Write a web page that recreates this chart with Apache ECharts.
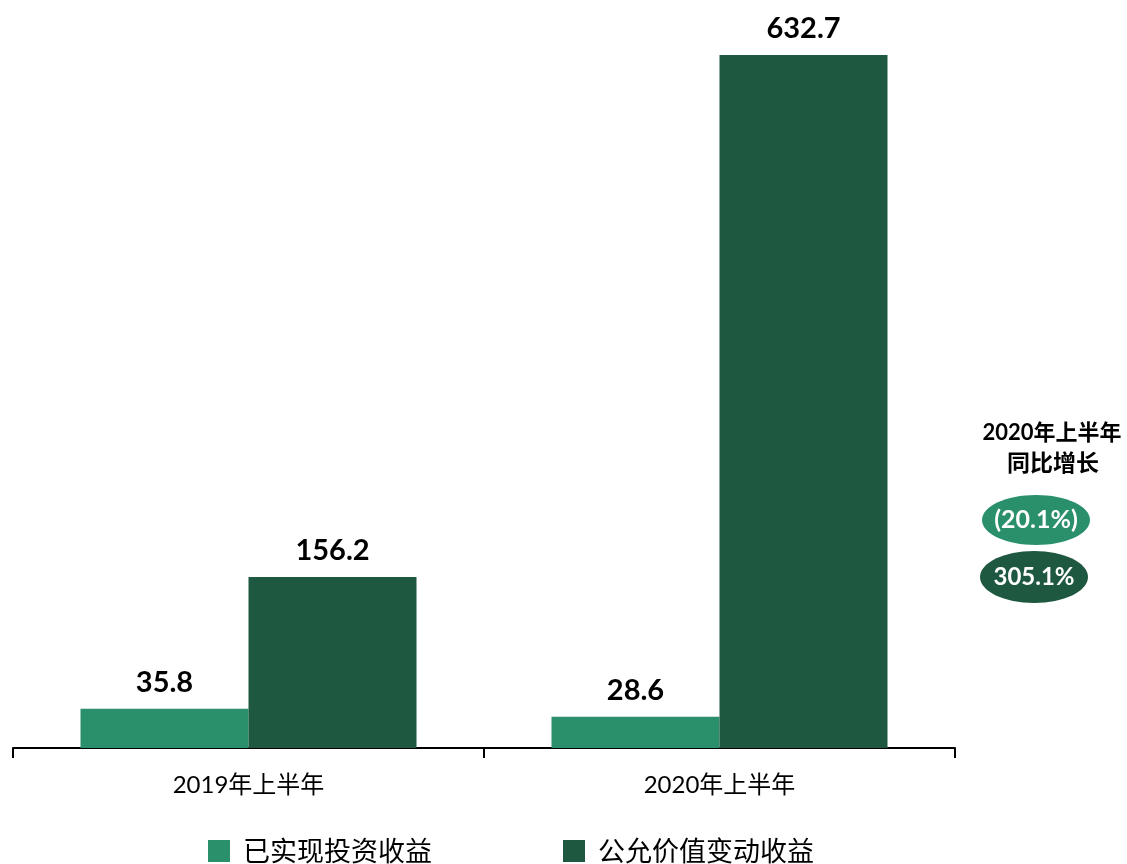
<!DOCTYPE html>
<html>
<head>
<meta charset="utf-8">
<script src="https://cdn.jsdelivr.net/npm/echarts@6/dist/echarts.min.js"></script>
<style>html,body{margin:0;padding:0;background:#fff;}#c{width:1127px;height:864px;}</style>
</head>
<body>
<div id="c"></div>
<script>
const categories = ['2019年上半年', '2020年上半年'];
const seriesNames = ['已实现投资收益', '公允价值变动收益'];
const realized = [35.8, 28.6];
const fairValue = [156.2, 632.7];
const growthTitle = ['2020年上半年', '同比增长'];
const growthLabels = ['(20.1%)', '305.1%'];

const colors = ['#2A8F6B', '#1F5841'];
const numFont = "Lato, 'Noto Sans CJK SC', sans-serif";
const cjkFont = "'Noto Sans CJK SC', sans-serif";

const chart = echarts.init(document.getElementById('c'));
const legendText = { fontSize: 27, color: '#000', fontFamily: cjkFont, padding: [0, 0, 0, 8], lineHeight: 30 };
chart.setOption({
  animation: false,
  backgroundColor: '#fff',
  grid: { left: 13, right: 172, top: 55, bottom: 116 },
  legend: [
    { data: [seriesNames[0]], left: 208, top: 836, padding: 0, itemWidth: 22, itemHeight: 22, icon: 'rect', textStyle: legendText },
    { data: [seriesNames[1]], left: 563, top: 836, padding: 0, itemWidth: 22, itemHeight: 22, icon: 'rect', textStyle: legendText }
  ],
  xAxis: {
    type: 'category',
    data: categories,
    axisLine: { lineStyle: { color: '#000', width: 2 } },
    axisTick: { show: true, length: 10, lineStyle: { color: '#000', width: 2 } },
    axisLabel: { fontSize: 24, color: '#000', margin: 25, fontFamily: numFont }
  },
  yAxis: {
    type: 'value', min: 0, max: 632.7,
    show: false, splitLine: { show: false }
  },
  series: [
    { name: seriesNames[0], type: 'bar', data: realized, barWidth: 168, barGap: '0%',
      itemStyle: { color: colors[0] },
      label: { show: true, position: 'top', distance: 12, fontSize: 29, fontWeight: 'bold', color: '#000', fontFamily: numFont,
               formatter: p => p.value.toFixed(1) } },
    { name: seriesNames[1], type: 'bar', data: fairValue, barWidth: 168, barGap: '0%',
      itemStyle: { color: colors[1] },
      label: { show: true, position: 'top', distance: 12, fontSize: 29, fontWeight: 'bold', color: '#000', fontFamily: numFont,
               formatter: p => p.value.toFixed(1) } }
  ],
  graphic: [
    { type: 'text', x: 1052, y: 433, style: { text: growthTitle[0], fill: '#000', font: "bold 22px " + numFont, align: 'center', verticalAlign: 'middle' } },
    { type: 'text', x: 1053, y: 462, style: { text: growthTitle[1], fill: '#000', font: "bold 23px " + cjkFont, align: 'center', verticalAlign: 'middle' } },
    { type: 'ellipse', shape: { cx: 1036, cy: 520, rx: 54, ry: 25 }, style: { fill: colors[0] } },
    { type: 'ellipse', shape: { cx: 1034, cy: 577, rx: 54, ry: 26 }, style: { fill: colors[1] } },
    { type: 'text', x: 1036, y: 520, style: { text: growthLabels[0], fill: '#fff', font: "bold 25px " + numFont, align: 'center', verticalAlign: 'middle' } },
    { type: 'text', x: 1034, y: 577, style: { text: growthLabels[1], fill: '#fff', font: "bold 24px " + numFont, align: 'center', verticalAlign: 'middle' } }
  ]
});
</script>
</body>
</html>
